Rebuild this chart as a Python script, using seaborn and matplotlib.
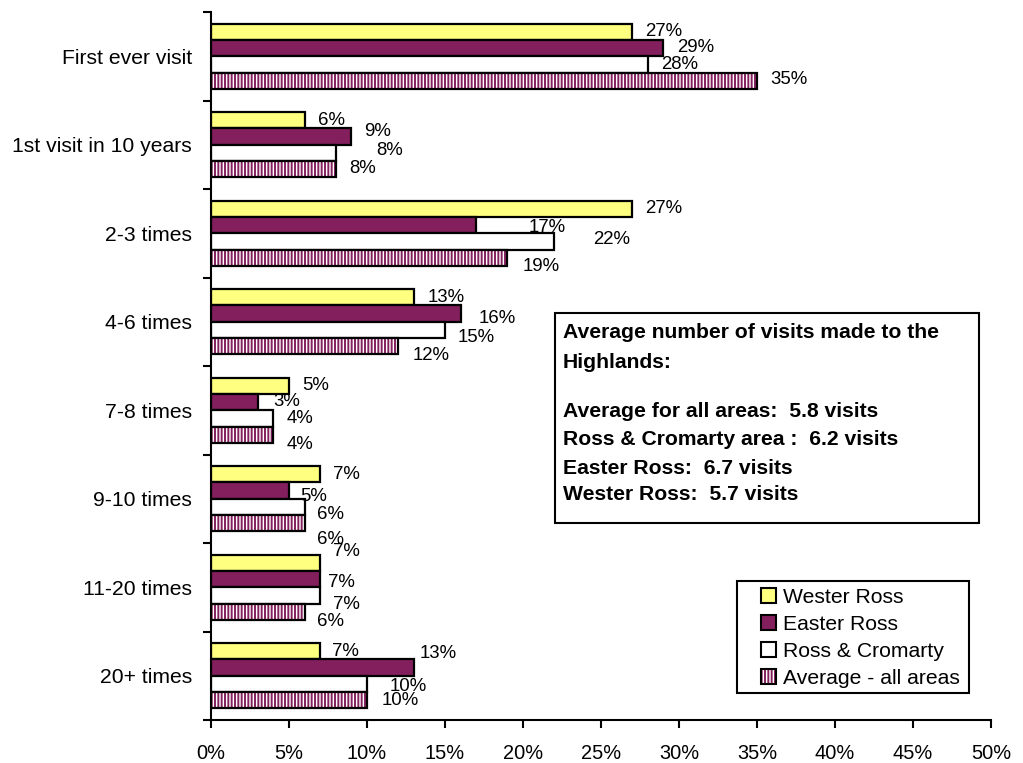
import matplotlib
matplotlib.use("Agg")
import matplotlib.pyplot as plt
from matplotlib.patches import Rectangle, Patch
from matplotlib.ticker import FixedLocator, FuncFormatter
import seaborn as sns
import pandas as pd

categories = ["First ever visit", "1st visit in 10 years", "2-3 times", "4-6 times",
              "7-8 times", "9-10 times", "11-20 times", "20+ times"]
series = ["Wester Ross", "Easter Ross", "Ross & Cromarty", "Average - all areas"]
wester_ross = [27, 6, 27, 13, 5, 7, 7, 7]
easter_ross = [29, 9, 17, 16, 3, 5, 7, 13]
ross_cromarty = [28, 8, 22, 15, 4, 6, 7, 10]
average_all = [35, 8, 19, 12, 4, 6, 6, 10]
x_ticks = [0, 5, 10, 15, 20, 25, 30, 35, 40, 45, 50]
note_lines = ["Average number of visits made to the", "Highlands:",
              "Average for all areas:  5.8 visits", "Ross & Cromarty area :  6.2 visits",
              "Easter Ross:  6.7 visits", "Wester Ross:  5.7 visits"]

# per-label nudges (pixels) so crowded value labels sit clear of each other
label_dx = [[0, 0, 0, 1, 0, 0, 0, -1],
            [1, 0, 39, 5, 2, -2, -5, -7],
            [0, 27, 26, 0, 0, -1, 0, 10],
            [0, 0, 2, 1, 0, -1, -1, 2]]
label_dy = [[0, 0, 0, 0, 0, 0, -11, 0],
            [-1, -5, 2, 5, -1, 6, 3, -14],
            [0, -2, -2, 8, 0, 8, 9, 3],
            [-1, -1, 9, 9, 10, 16, 10, 0]]

YELLOW = "#FFFF80"
PLUM = "#841F5E"
HATCH = "|||||"
colors = [YELLOW, PLUM, "white", "white"]

sns.set_theme(style="white")
plt.rcParams["font.family"] = ["Liberation Sans", "DejaVu Sans"]
plt.rcParams["hatch.linewidth"] = 1.4
plt.rcParams["text.color"] = "black"

df = pd.DataFrame({
    "category": categories * 4,
    "series": [s for s in series for _ in categories],
    "value": wester_ross + easter_ross + ross_cromarty + average_all,
})

W, H = 1023, 763
fig = plt.figure(figsize=(W / 100, H / 100), dpi=100)
ax = fig.add_axes([211 / W, 1 - 720 / H, (991 - 211) / W, (720 - 12) / H])

sns.barplot(data=df, y="category", x="value", hue="series", order=categories,
            hue_order=series, palette=colors, saturation=1, orient="h", width=0.74,
            gap=0, edgecolor="black", linewidth=1.6, legend=False, ax=ax)

# hatched series: plum vertical stripes with a black outline on top
for patch in ax.containers[3]:
    patch.set_hatch(HATCH)
    patch.set_edgecolor(PLUM)
    patch.set_linewidth(0)
    ax.add_patch(Rectangle(patch.get_xy(), patch.get_width(), patch.get_height(),
                           fill=False, ec="black", lw=1.6, zorder=patch.get_zorder() + 0.1))

for si, cont in enumerate(ax.containers):
    for ci, patch in enumerate(cont):
        w = patch.get_width()
        ax.annotate(f"{w:.0f}%", (w, patch.get_y() + patch.get_height() / 2),
                    xytext=(13 + label_dx[si][ci], -label_dy[si][ci]),
                    textcoords="offset pixels", va="center", ha="left",
                    fontsize=13.4, color="black", zorder=7)

ax.set_xlim(0, 50)
ax.set_ylim(len(categories) - 0.5, -0.5)
ax.xaxis.set_major_locator(FixedLocator(x_ticks))
ax.xaxis.set_major_formatter(FuncFormatter(lambda v, p: f"{v:.0f}%"))
ax.yaxis.set_minor_locator(FixedLocator([i - 0.5 for i in range(len(categories) + 1)]))
ax.tick_params(axis="y", which="major", length=0, labelsize=15.2, pad=13.5, labelcolor="black")
ax.tick_params(axis="y", which="minor", left=True, length=6, width=1.5, color="black",
               direction="out")
ax.tick_params(axis="x", bottom=True, length=6, width=1.5, color="black", direction="out",
               labelsize=14.4, pad=11, labelcolor="black")
ax.set_xlabel("")
ax.set_ylabel("")
for side in ["top", "right"]:
    ax.spines[side].set_visible(False)
for side in ["left", "bottom"]:
    ax.spines[side].set_color("black")
    ax.spines[side].set_linewidth(1.5)

# note box
fig.patches.append(Rectangle((555 / W, 1 - 523 / H), (979 - 555) / W, (523 - 313) / H,
                             transform=fig.transFigure, fill=True, fc="white",
                             ec="black", lw=1.5, zorder=5))
line_y = [333, 362, 411, 440, 469, 494]
for txt, yy in zip(note_lines, line_y):
    fig.text(563 / W, 1 - yy / H, txt, fontsize=15.2, fontweight="bold",
             va="center", ha="left", zorder=6)

# legend box
fig.patches.append(Rectangle((737 / W, 1 - 693 / H), (969 - 737) / W, (693 - 581) / H,
                             transform=fig.transFigure, fill=True, fc="white",
                             ec="black", lw=1.5, zorder=5))
handles = [Patch(fc=YELLOW, ec="black", lw=1.5),
           Patch(fc=PLUM, ec="black", lw=1.5),
           Patch(fc="white", ec="black", lw=1.5),
           (Patch(fc="white", ec=PLUM, lw=0, hatch=HATCH),
            Patch(fill=False, ec="black", lw=1.5))]
leg = fig.legend(handles, series, loc="upper left", bbox_to_anchor=(761 / W, 1 - 588 / H),
                 frameon=False, fontsize=15.2, handlelength=0.72, handleheight=0.72,
                 handletextpad=0.3, labelspacing=0.38, borderpad=0, borderaxespad=0)
leg.set_zorder(6)

fig.savefig("out.png", dpi=100)
